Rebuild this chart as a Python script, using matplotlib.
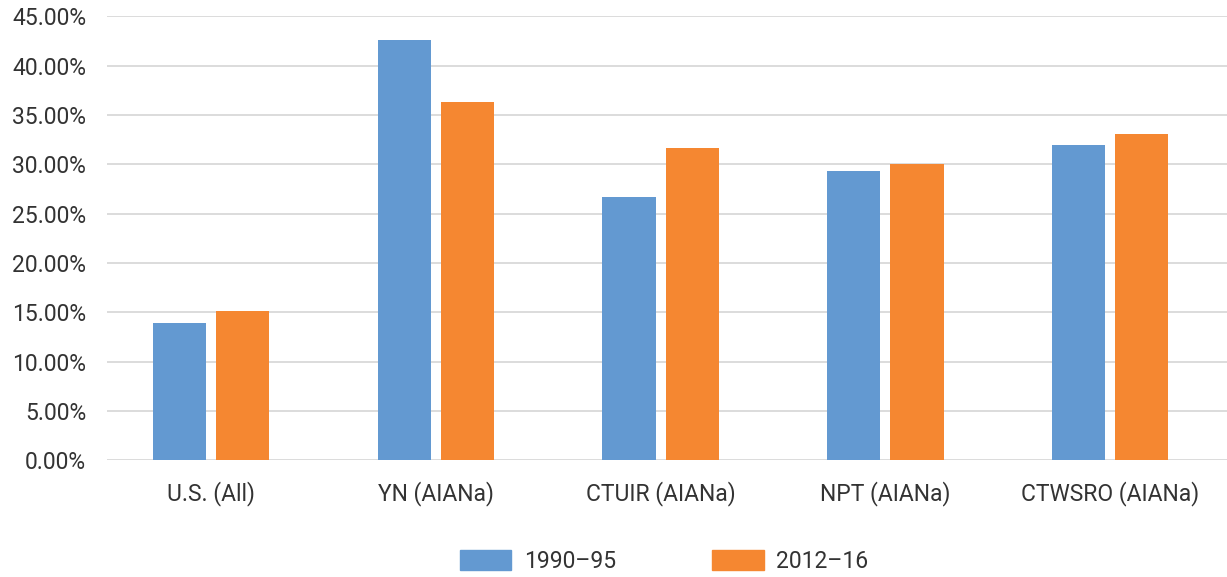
import matplotlib.pyplot as plt
import numpy as np
from matplotlib.ticker import FuncFormatter
from matplotlib.patches import Patch

plt.rcParams['font.family'] = ['Roboto', 'DejaVu Sans']

categories = ['U.S. (All)', 'YN (AIANa)', 'CTUIR (AIANa)', 'NPT (AIANa)', 'CTWSRO (AIANa)']
series_names = ['1990\u201395', '2012\u201316']
vals_1990 = [13.9, 42.6, 26.7, 29.3, 32.0]
vals_2012 = [15.1, 36.3, 31.6, 30.0, 33.1]
colors = ['#6399D1', '#F58731']

fig = plt.figure(figsize=(12.27, 5.77), dpi=100)
ax = fig.add_axes([107 / 1227, 0.202, 1 - 107 / 1227, 0.770])

x = np.arange(len(categories))
w = 0.237
off = 0.141
ax.bar(x - off, vals_1990, w, color=colors[0], zorder=3)
ax.bar(x + off, vals_2012, w, color=colors[1], zorder=3)

ax.set_xlim(-0.463, len(categories) - 0.48)
ax.set_ylim(0, 45)
ax.set_yticks(np.arange(0, 46, 5))
ax.yaxis.set_major_formatter(FuncFormatter(lambda v, p: '%.2f%%' % v))
ax.grid(axis='y', color='#D9D9D9', linewidth=1.3, zorder=0)
ax.set_xticks(x)
ax.set_xticklabels(categories)
for s in ax.spines.values():
    s.set_visible(False)
ax.tick_params(axis='both', length=0, labelsize=16.5, colors='#333333')
ax.tick_params(axis='y', pad=15)
ax.tick_params(axis='x', pad=15)

handles = [Patch(color=c) for c in colors]
fig.legend(handles, series_names, loc='center', bbox_to_anchor=(664 / 1227, 1 - 561 / 577),
           ncol=2, frameon=False, fontsize=16.5, handlelength=2.25, handleheight=0.95,
           columnspacing=4.2, handletextpad=0.55, labelcolor='#333333')

fig.savefig('out.png', dpi=100)
